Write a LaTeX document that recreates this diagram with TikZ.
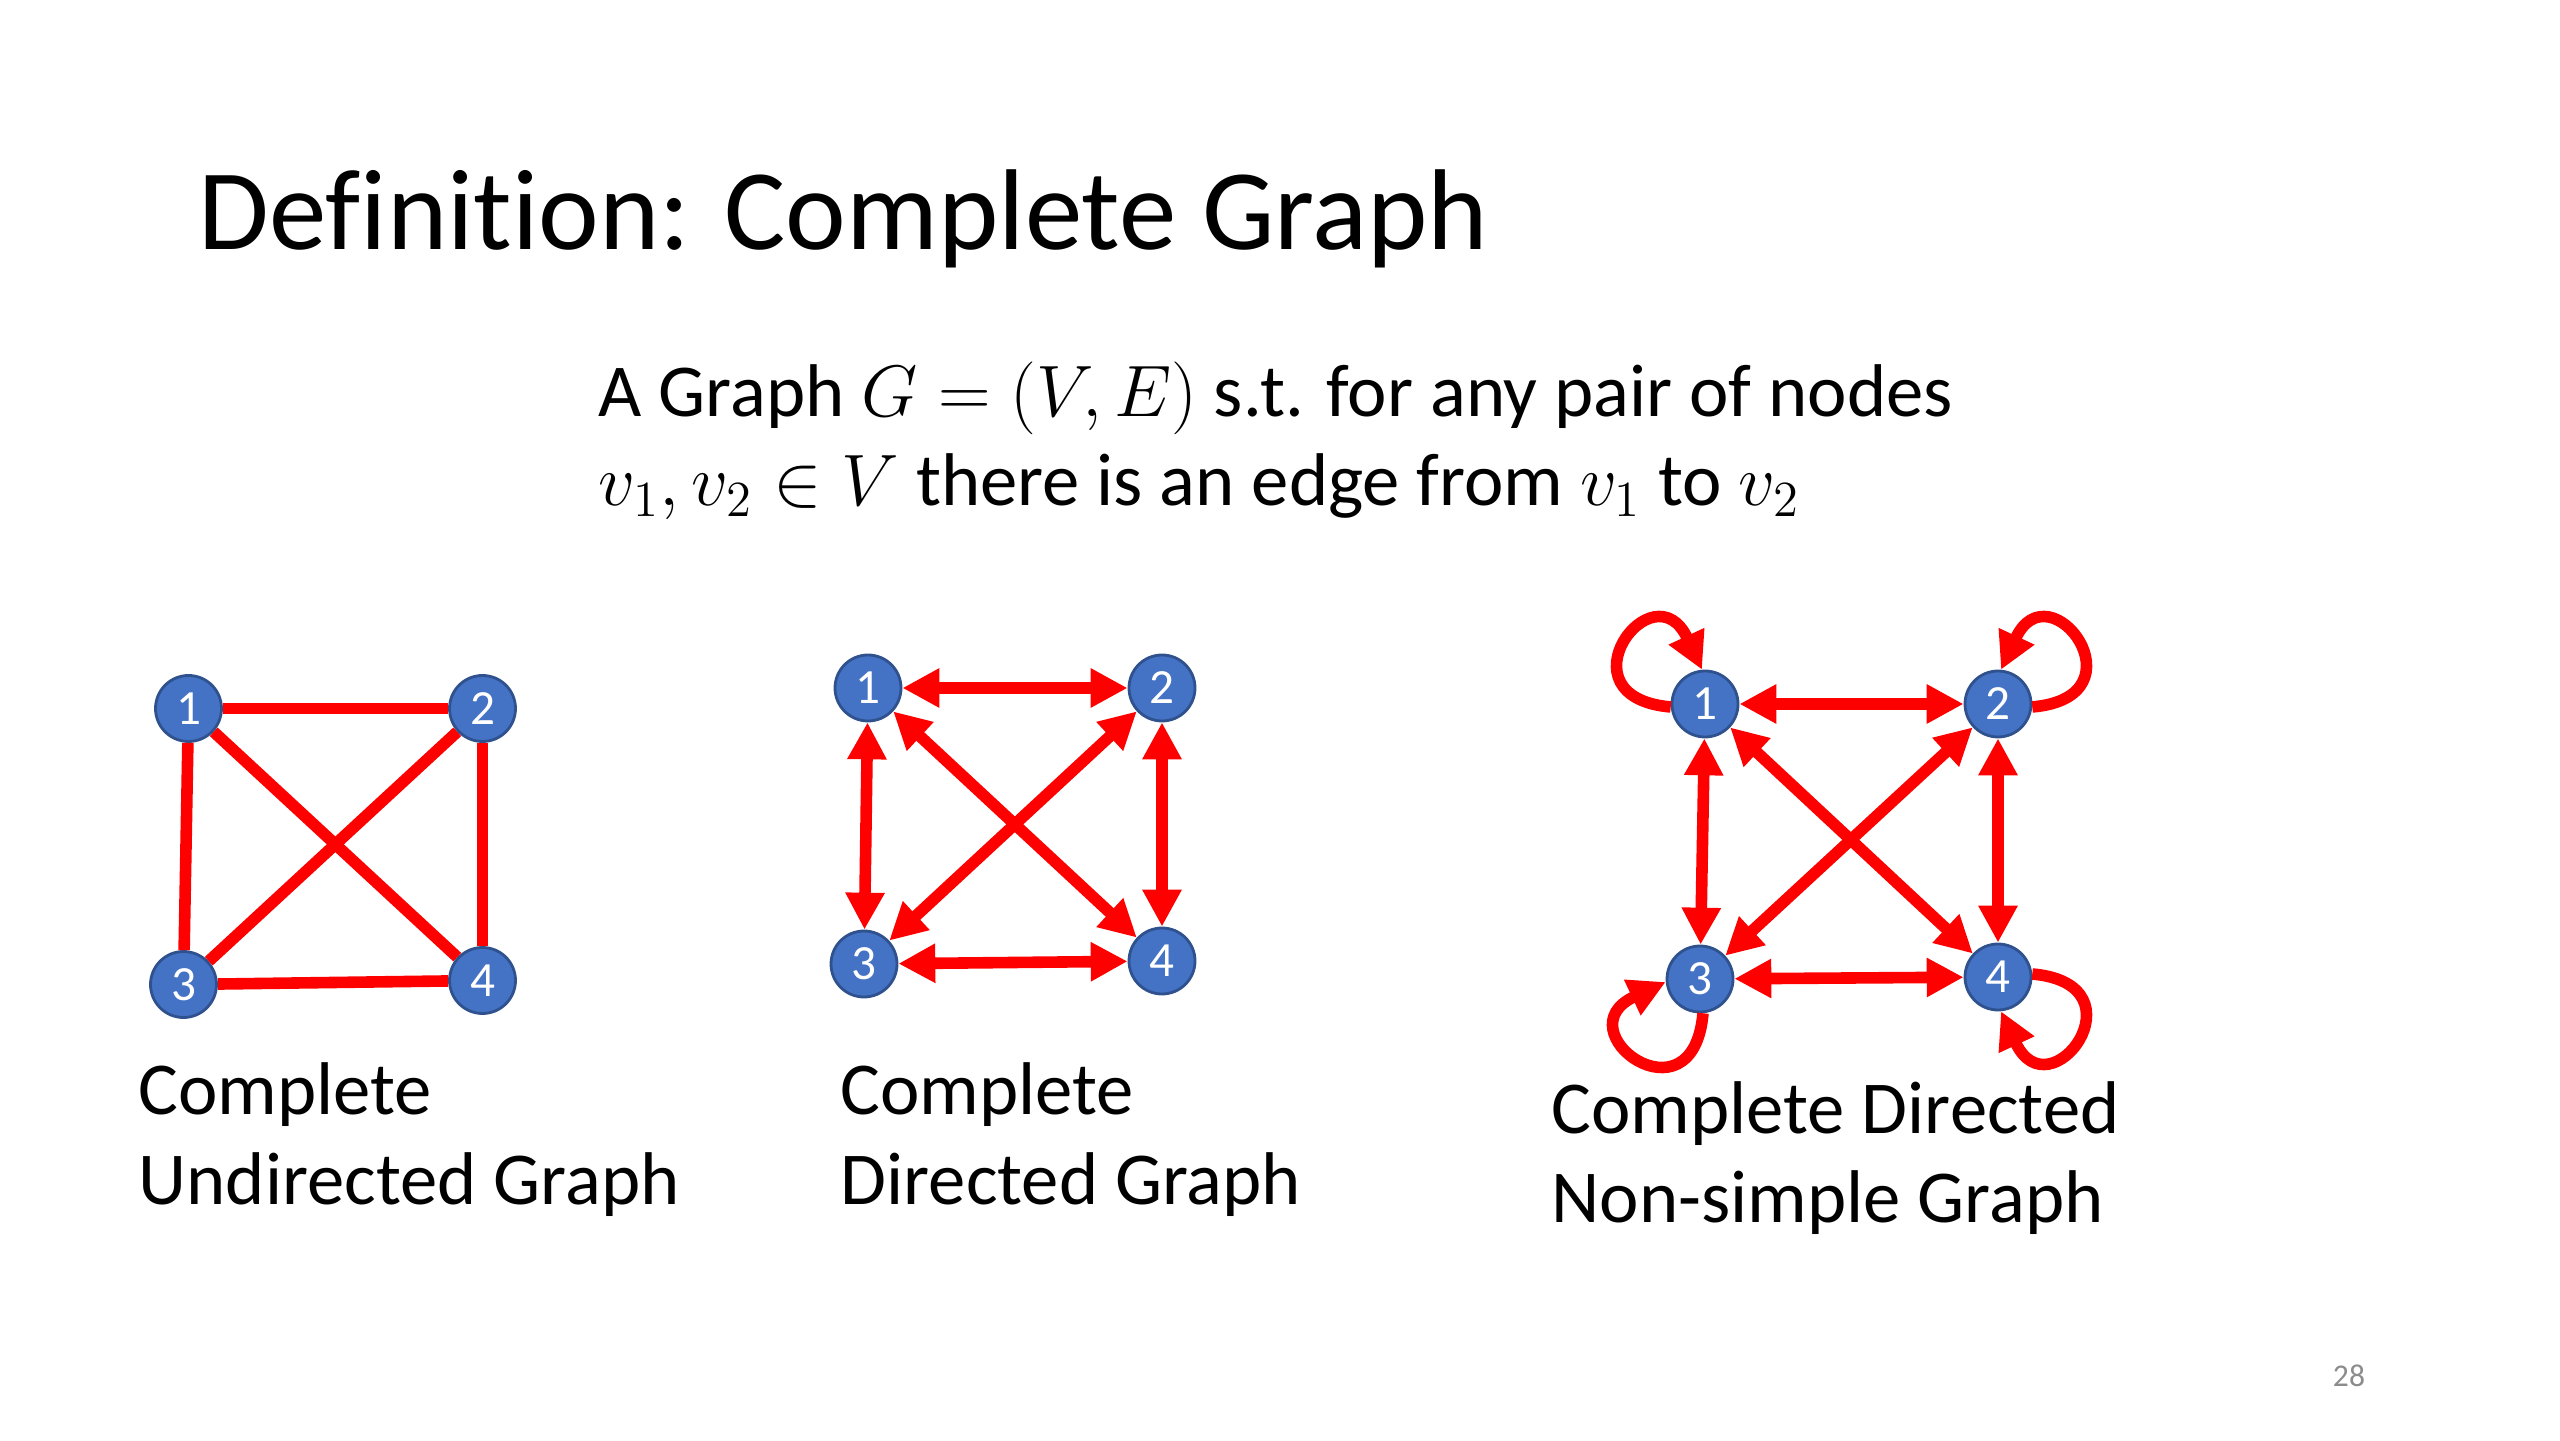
\documentclass[tikz,border=0pt]{standalone}
\usepackage{fontspec}
\setmainfont{Carlito}[Ligatures=NoCommon]
\usepackage{tikz}
\usetikzlibrary{arrows.meta}
\definecolor{nodeblue}{HTML}{4472C4}
\definecolor{nodeline}{HTML}{2F528F}
\definecolor{edgered}{HTML}{FF0000}
\definecolor{pagegray}{HTML}{8C8C8C}

\begin{document}
\begin{tikzpicture}[
    vertex/.style={circle, fill=nodeblue, draw=nodeline, line width=0.8pt,
        minimum size=0.66cm, inner sep=0pt, text=white,
        font=\fontsize{14}{14}\selectfont},
    link/.style={draw=edgered, line width=3.3pt},
    twoway/.style={link, {Triangle[length=10.5pt,width=10.5pt]}-{Triangle[length=10.5pt,width=10.5pt]}},
    selfloop/.style={link, -{Triangle[length=10.5pt,width=10.5pt]}},
    caption/.style={anchor=base west, align=left, inner sep=0pt,
        font=\fontsize{21.25}{25.6}\selectfont}
  ]
    \useasboundingbox (0,0) rectangle (25.6,14.4);

    % title and definition (base = last line)
    \node[anchor=base west, inner sep=0pt, font=\fontsize{32.7}{33}\selectfont] (title) at (1.98, 11.90) {Definition: Complete Graph};
    \node[caption] (def) at (5.98, 9.34) {A Graph $G=(V,E)$ s.t. for any pair of nodes\\$v_1,v_2\in V$ there is an edge from $v_1$ to $v_2$};

    % complete undirected graph
    \node[vertex] (u1) at (1.885, 7.315) {1};
    \node[vertex] (u2) at (4.825, 7.315) {2};
    \node[vertex] (u3) at (1.835, 4.555) {3};
    \node[vertex] (u4) at (4.825, 4.595) {4};
    \draw[link] (u1) -- (u2);
    \draw[link] (u1) -- (u3);
    \draw[link] (u1) -- (u4);
    \draw[link] (u2) -- (u3);
    \draw[link] (u2) -- (u4);
    \draw[link] (u3) -- (u4);
    \node[caption] (ucap) at (1.38, 2.36) {Complete\\Undirected Graph};

    % complete directed graph
    \node[vertex] (d1) at (8.68, 7.52) {1};
    \node[vertex] (d2) at (11.62, 7.52) {2};
    \node[vertex] (d3) at (8.64, 4.76) {3};
    \node[vertex] (d4) at (11.62, 4.79) {4};
    \draw[twoway] (d1) -- (d2);
    \draw[twoway] (d1) -- (d3);
    \draw[twoway] (d1) -- (d4);
    \draw[twoway] (d2) -- (d3);
    \draw[twoway] (d2) -- (d4);
    \draw[twoway] (d3) -- (d4);
    \node[caption] (dcap) at (8.40, 2.36) {Complete\\Directed Graph};

    % complete directed graph with self loops
    \node[vertex] (m1) at (17.05, 7.36) {1};
    \node[vertex] (m2) at (19.98, 7.36) {2};
    \node[vertex] (m3) at (17.00, 4.61) {3};
    \node[vertex] (m4) at (19.98, 4.63) {4};
    \draw[twoway] (m1) -- (m2);
    \draw[twoway] (m1) -- (m3);
    \draw[twoway] (m1) -- (m4);
    \draw[twoway] (m2) -- (m3);
    \draw[twoway] (m2) -- (m4);
    \draw[twoway] (m3) -- (m4);
    \draw[selfloop] (m1.185) .. controls +(175:1.15) and +(115:1.15) .. (m1.95);
    \draw[selfloop] (m2.355) .. controls +(5:1.15) and +(65:1.15) .. (m2.85);
    \draw[selfloop] (m3.275) .. controls +(265:1.15) and +(205:1.15) .. (m3.185);
    \draw[selfloop] (m4.5) .. controls +(355:1.15) and +(295:1.15) .. (m4.275);
    \node[caption] (mcap) at (15.51, 2.17) {Complete Directed\\Non-simple Graph};

    % slide number
    \node[text=pagegray, font=\fontsize{9}{9}\selectfont] (page) at (23.49, 0.64) {28};

  \end{tikzpicture}
\end{document}
